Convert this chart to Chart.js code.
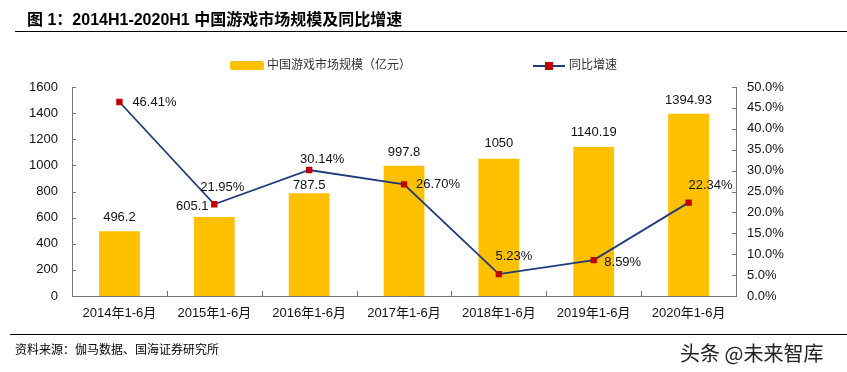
<!DOCTYPE html>
<html>
<head>
<meta charset="utf-8">
<script src="https://cdn.jsdelivr.net/npm/chart.js@4.4.1/dist/chart.umd.min.js"></script>
<style>
  body { margin: 0; background: #fff; }
  #wrap { position: relative; width: 847px; height: 372px; font-family: "Liberation Sans", "Noto Sans CJK SC", sans-serif; }
  #chart { position: absolute; left: 0; top: 0; }
  .title { position: absolute; left: 27px; top: 6px; font: bold 16px "Liberation Sans", "Noto Sans CJK SC", sans-serif; color: #000; white-space: nowrap; }
  .rule { position: absolute; height: 1px; background: #000; }
  .src { position: absolute; left: 15px; top: 340px; font: 12px "Noto Sans CJK SC", sans-serif; color: #000; }
  .wm { position: absolute; left: 680px; top: 338px; font: 20px "Noto Sans CJK SC", sans-serif; color: #222; }
  .lg { position: absolute; top: 55px; font: 12px "Noto Sans CJK SC", sans-serif; color: #333; white-space: nowrap; }
</style>
</head>
<body>
<div id="wrap">
  <canvas id="chart" width="847" height="372"></canvas>
  <div class="title">图 1：2014H1-2020H1 中国游戏市场规模及同比增速</div>
  <div class="rule" style="left:15px; top:31px; width:832px;"></div>
  <div class="lg" style="left:230px;"><span style="display:inline-block;width:34px;height:9px;background:#FFC000;border-radius:2px;vertical-align:middle;margin-right:3px;"></span>中国游戏市场规模（亿元）</div>
  <div class="lg" style="left:533px;"><span style="display:inline-block;position:relative;width:32px;height:9px;vertical-align:middle;margin-right:4px;"><span style="position:absolute;left:0;top:4px;width:32px;height:2px;background:#1F3C7A;"></span><span style="position:absolute;left:12px;top:1px;width:8px;height:8px;background:#C00000;"></span></span>同比增速</div>
  <div class="rule" style="left:10px; top:334px; width:837px;"></div>
  <div class="src">资料来源：伽马数据、国海证券研究所</div>
  <div class="wm">头条 @未来智库</div>
</div>
<script>
const categories = ['2014年1-6月', '2015年1-6月', '2016年1-6月', '2017年1-6月', '2018年1-6月', '2019年1-6月', '2020年1-6月'];
const marketSize = [496.2, 605.1, 787.5, 997.8, 1050, 1140.19, 1394.93];
const growth = [46.41, 21.95, 30.14, 26.70, 5.23, 8.59, 22.34];
const sizeLabels = ['496.2', '605.1', '787.5', '997.8', '1050', '1140.19', '1394.93'];
const growthLabels = ['46.41%', '21.95%', '30.14%', '26.70%', '5.23%', '8.59%', '22.34%'];

// label offsets (px) from the mark
const barOff = [[0, -14], [-22, -11], [0, -8], [0, -13], [0, -15], [0, -15], [0, -13]];
const lineOff = [[35, 0], [8, -17], [13, -11], [34, 0], [15, -18], [29, 2], [22, -17]];

const labelPlugin = {
    id: 'labels',
    afterDatasetsDraw(chart) {
        const ctx = chart.ctx;
        ctx.save();
        ctx.font = '13px "Liberation Sans", Arial, sans-serif';
        ctx.fillStyle = '#111';
        ctx.textAlign = 'center';
        ctx.textBaseline = 'middle';
        chart.getDatasetMeta(1).data.forEach((el, i) => {
            ctx.fillText(sizeLabels[i], el.x + barOff[i][0], el.y + barOff[i][1]);
        });
        chart.getDatasetMeta(0).data.forEach((el, i) => {
            ctx.fillText(growthLabels[i], el.x + lineOff[i][0], el.y + lineOff[i][1]);
        });
        ctx.restore();
    },
    afterDraw(chart) {
        // small inward tick marks
        const ctx = chart.ctx;
        const a = chart.chartArea;
        ctx.save();
        ctx.strokeStyle = '#777';
        ctx.lineWidth = 1;
        ctx.beginPath();
        chart.scales.y.ticks.forEach(t => {
            const p = Math.round(chart.scales.y.getPixelForValue(t.value)) + 0.5;
            ctx.moveTo(a.left, p); ctx.lineTo(a.left + 4, p);
        });
        chart.scales.y1.ticks.forEach(t => {
            const p = Math.round(chart.scales.y1.getPixelForValue(t.value)) + 0.5;
            ctx.moveTo(a.right - 4, p); ctx.lineTo(a.right, p);
        });
        const xs = chart.scales.x;
        for (let i = 0; i <= categories.length; i++) {
            const p = Math.round(xs.getPixelForValue(i - 0.5)) + 0.5;
            ctx.moveTo(p, a.bottom); ctx.lineTo(p, a.bottom - 5);
        }
        ctx.stroke();
        ctx.restore();
    }
};

new Chart(document.getElementById('chart'), {
    data: {
        labels: categories,
        datasets: [{
            type: 'line',
            data: growth,
            yAxisID: 'y1',
            borderColor: '#1F3C7A',
            borderWidth: 1.8,
            pointStyle: 'rect',
            pointRadius: 4.5,
            pointBackgroundColor: '#C00000',
            pointBorderColor: '#C00000',
            pointBorderWidth: 0,
            tension: 0,
            order: 0
        }, {
            type: 'bar',
            data: marketSize,
            yAxisID: 'y',
            backgroundColor: '#FFC000',
            categoryPercentage: 1,
            barPercentage: 0.43,
            order: 1
        }]
    },
    options: {
        responsive: false,
        animation: false,
        layout: { padding: { top: 87, bottom: 0, left: 0, right: 0 } },
        plugins: {
            legend: { display: false },
            tooltip: { enabled: false }
        },
        scales: {
            x: {
                grid: { display: false },
                border: { display: true, color: '#777' },
                ticks: { color: '#111', font: { size: 13, family: '"Liberation Sans", "Noto Sans CJK SC", sans-serif' }, padding: 2, maxRotation: 0 },
                afterFit: s => { s.height = 76; }
            },
            y: {
                position: 'left',
                min: 0,
                max: 1600,
                grid: { display: false },
                border: { display: true, color: '#777' },
                ticks: { stepSize: 200, color: '#111', font: { size: 13, family: '"Liberation Sans", Arial, sans-serif' }, padding: 6, callback: v => String(v) },
                afterFit: s => { s.width = 72; }
            },
            y1: {
                position: 'right',
                min: 0,
                max: 50,
                grid: { display: false },
                border: { display: true, color: '#777' },
                ticks: { stepSize: 5, color: '#111', font: { size: 13, family: '"Liberation Sans", Arial, sans-serif' }, padding: 3, callback: v => v.toFixed(1) + '%' },
                afterFit: s => { s.width = 111; }
            }
        }
    },
    plugins: [labelPlugin]
});
</script>
</body>
</html>
